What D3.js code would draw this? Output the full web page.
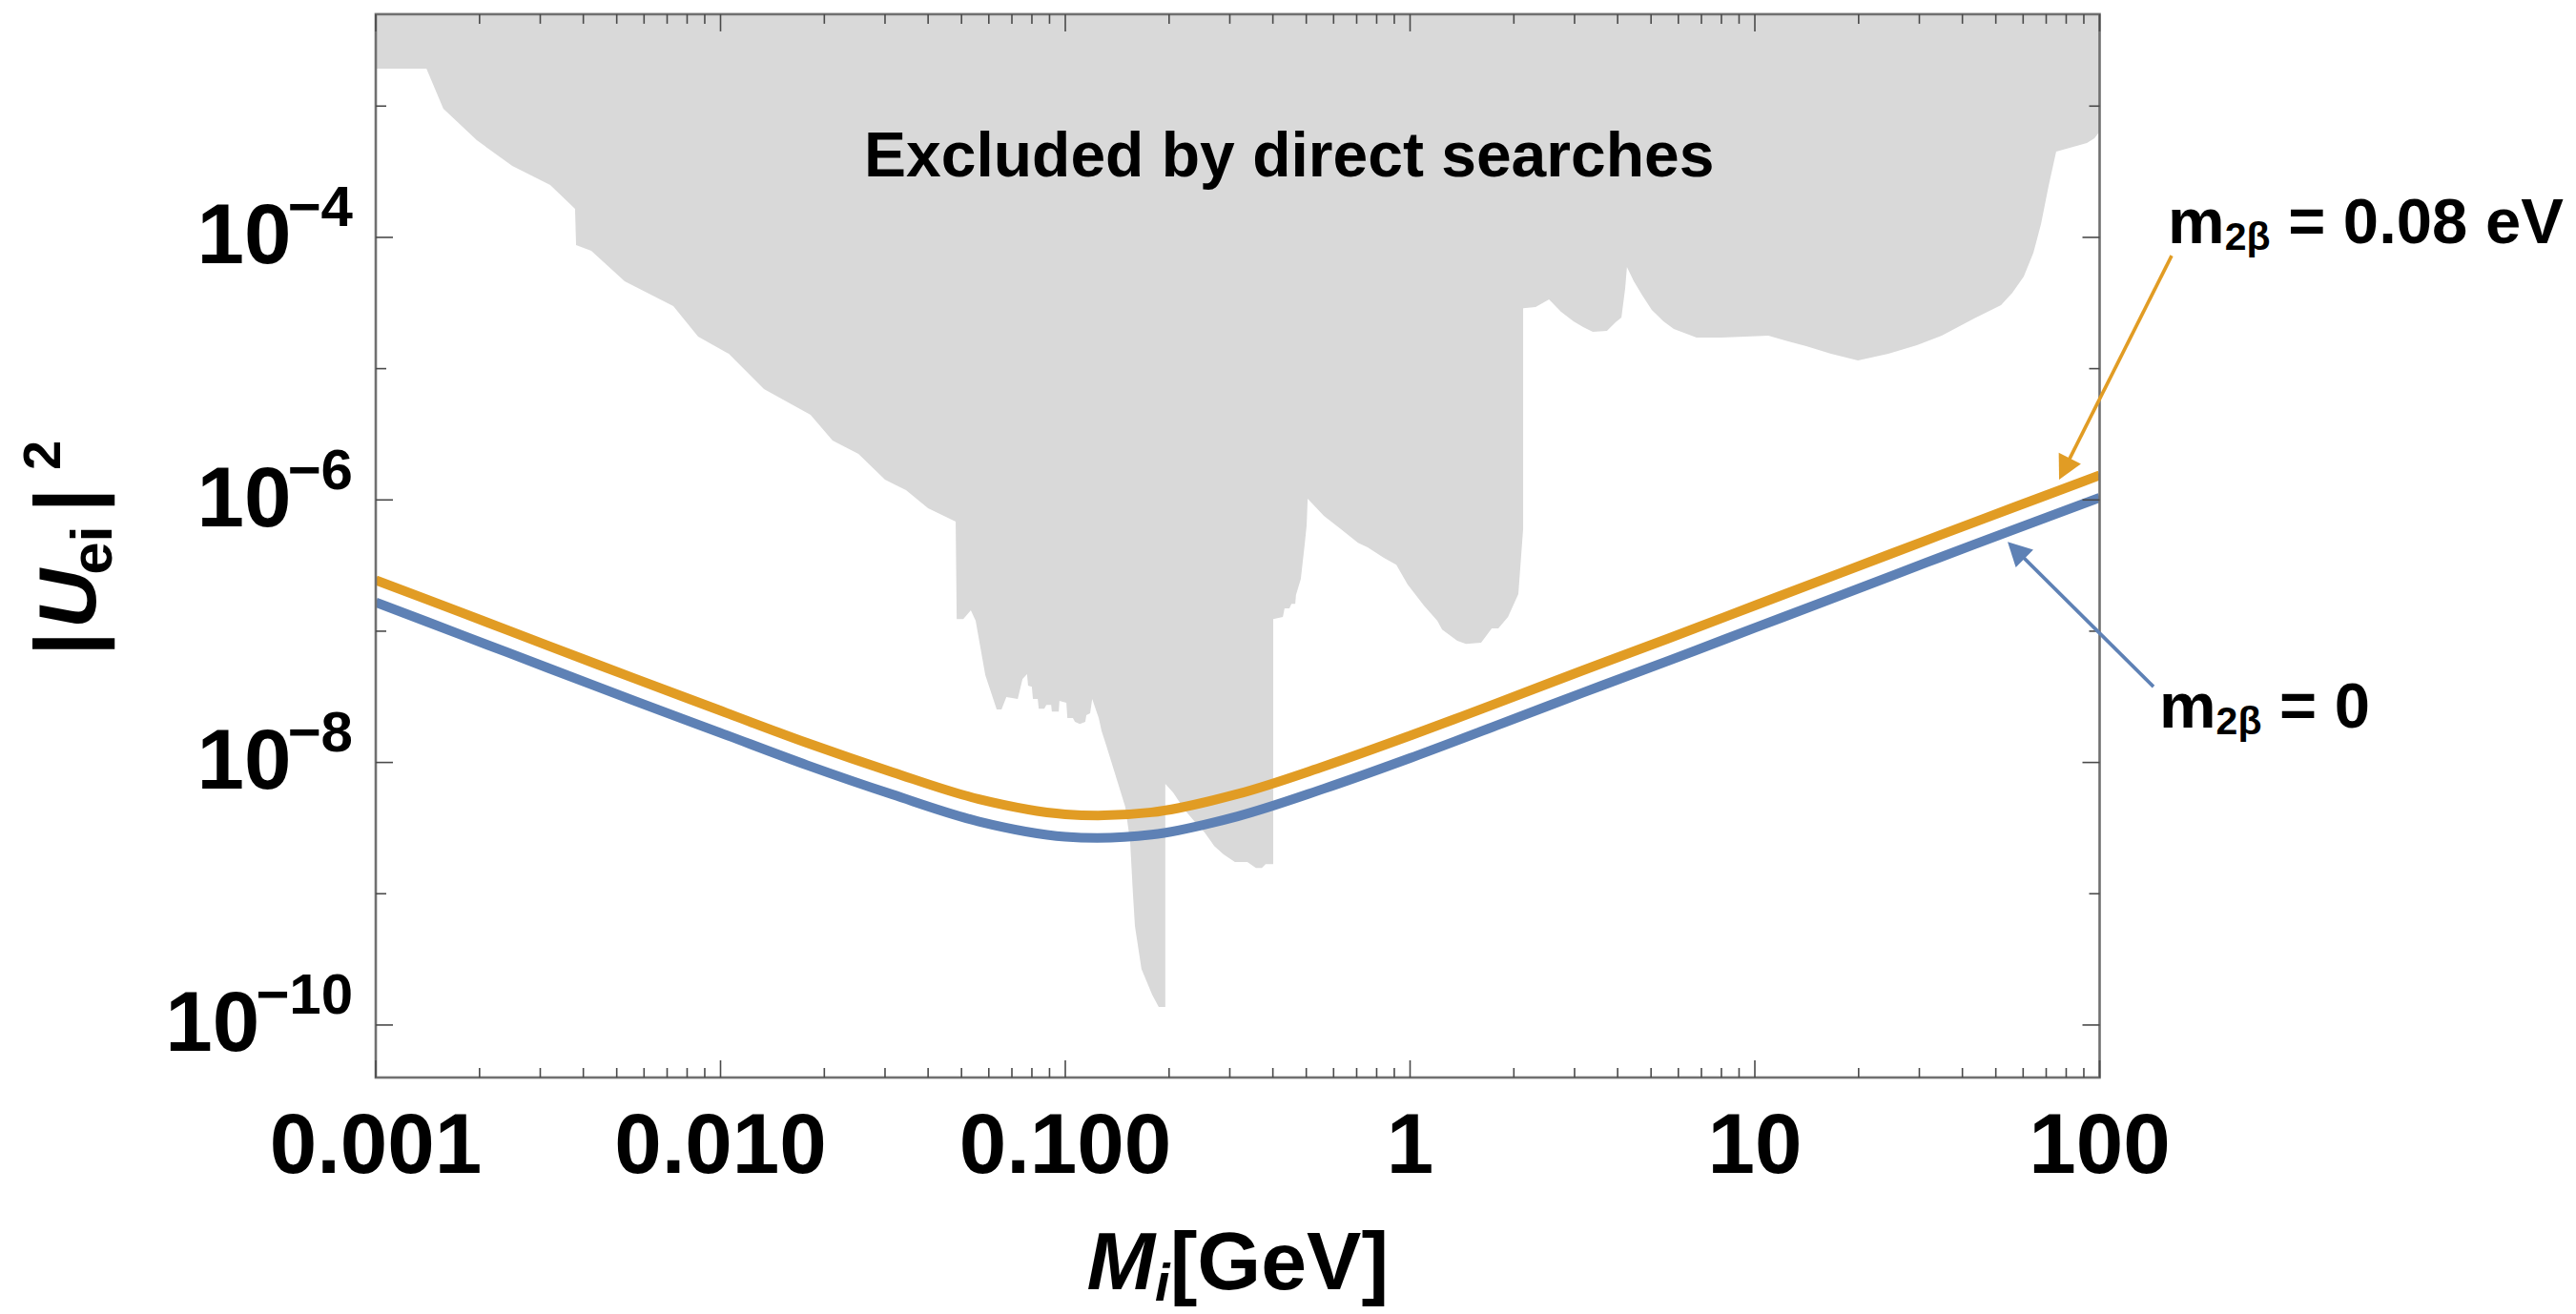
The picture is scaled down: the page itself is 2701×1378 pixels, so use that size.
<!DOCTYPE html>
<html>
<head>
<meta charset="utf-8">
<script src="https://cdn.jsdelivr.net/npm/d3@7"></script>
<style>
  html, body { margin: 0; padding: 0; background: #fff; }
  svg { display: block; font-family: "Liberation Sans", Arial, Helvetica, sans-serif; font-weight: bold; }
  text { white-space: pre; }
</style>
</head>
<body>
<svg id="chart" width="2701" height="1378"></svg>
<script>
// ---- data -------------------------------------------------------------
// Heavy-neutrino mass grid (GeV), quarter-decade steps
const massGrid = [0.001, 0.00178, 0.00316, 0.00562, 0.01, 0.0178, 0.0316, 0.0562, 0.1, 0.178, 0.316,
                  0.562, 1, 1.78, 3.16, 5.62, 10, 17.8, 31.6, 56.2, 100];
// |U_ei|^2 for m_2β = 0
const mixingZero = [1.66e-7, 9.33e-8, 5.25e-8, 2.95e-8, 1.68e-8, 9.55e-9, 5.69e-9, 3.55e-9, 2.72e-9, 2.82e-9, 3.89e-9,
                    6.31e-9, 1.08e-8, 1.91e-8, 3.39e-8, 5.96e-8, 1.06e-7, 1.88e-7, 3.35e-7, 5.92e-7, 1.04e-6];
// |U_ei|^2 for m_2β = 0.08 eV
const mixingEff  = [2.45e-7, 1.38e-7, 7.76e-8, 4.37e-8, 2.48e-8, 1.41e-8, 8.41e-9, 5.25e-9, 4.03e-9, 4.17e-9, 5.75e-9,
                    9.33e-9, 1.60e-8, 2.82e-8, 5.01e-8, 8.81e-8, 1.57e-7, 2.79e-7, 4.95e-7, 8.75e-7, 1.54e-6];

// Lower edge of the region excluded by direct searches (log10 M[GeV], log10 |U|^2)
const exclLogM = [
  -3.000, -2.853, -2.804, -2.707, -2.604, -2.494, -2.422, -2.419, -2.375, -2.278,
  -2.137, -2.065, -1.976, -1.874, -1.739, -1.675, -1.600, -1.523, -1.462, -1.398,
  -1.318, -1.315, -1.296, -1.274, -1.260, -1.232, -1.199, -1.185, -1.171, -1.138,
  -1.124, -1.111, -1.108, -1.097, -1.094, -1.080, -1.077, -1.061, -1.055, -1.041,
  -1.039, -1.019, -1.017, -0.997, -0.994, -0.978, -0.972, -0.958, -0.942, -0.939,
  -0.928, -0.922, -0.903, -0.895, -0.881, -0.845, -0.826, -0.812, -0.804, -0.798,
  -0.779, -0.748, -0.729, -0.710, -0.710, -0.687, -0.654, -0.624, -0.596, -0.568,
  -0.541, -0.508, -0.472, -0.447, -0.430, -0.419, -0.397, -0.397, -0.369, -0.364,
  -0.350, -0.344, -0.333, -0.331, -0.317, -0.306, -0.300, -0.297, -0.250, -0.203,
  -0.151, -0.123, -0.076, -0.040, -0.007, 0.040, 0.079, 0.093, 0.137, 0.162,
  0.206, 0.237, 0.256, 0.284, 0.314, 0.328, 0.328, 0.364, 0.403, 0.438,
  0.474, 0.502, 0.530, 0.571, 0.596, 0.613, 0.624, 0.629, 0.649, 0.674,
  0.701, 0.735, 0.765, 0.831, 0.903, 0.972, 1.039, 1.097, 1.149, 1.221,
  1.299, 1.387, 1.470, 1.542, 1.636, 1.714, 1.747, 1.780, 1.808, 1.830,
  1.852, 1.874, 1.963, 1.985, 2.000
];
const exclLogU = [
  -2.715, -2.715, -3.020, -3.260, -3.456, -3.601, -3.783, -4.059, -4.102, -4.335,
  -4.524, -4.756, -4.887, -5.156, -5.352, -5.548, -5.650, -5.846, -5.926, -6.064,
  -6.166, -6.907, -6.907, -6.841, -6.921, -7.335, -7.597, -7.597, -7.502, -7.517,
  -7.364, -7.328, -7.415, -7.423, -7.517, -7.517, -7.590, -7.590, -7.561, -7.561,
  -7.612, -7.612, -7.531, -7.546, -7.662, -7.662, -7.691, -7.706, -7.691, -7.640,
  -7.626, -7.517, -7.662, -7.757, -7.873, -8.178, -8.338, -8.600, -8.992, -9.246,
  -9.573, -9.769, -9.863, -9.863, -8.163, -8.229, -8.360, -8.454, -8.534, -8.636,
  -8.701, -8.759, -8.759, -8.803, -8.803, -8.774, -8.774, -6.907, -6.892, -6.827,
  -6.827, -6.791, -6.791, -6.725, -6.602, -6.347, -6.195, -5.991, -6.122, -6.217,
  -6.326, -6.362, -6.442, -6.493, -6.645, -6.805, -6.921, -6.987, -7.074, -7.096,
  -7.088, -6.979, -6.979, -6.892, -6.718, -6.217, -4.539, -4.531, -4.473, -4.567,
  -4.640, -4.684, -4.720, -4.713, -4.647, -4.611, -4.386, -4.226, -4.335, -4.444,
  -4.553, -4.640, -4.698, -4.763, -4.763, -4.756, -4.749, -4.793, -4.829, -4.887,
  -4.938, -4.887, -4.822, -4.749, -4.618, -4.517, -4.422, -4.299, -4.117, -3.899,
  -3.608, -3.347, -3.282, -3.245, -3.195
];

// Axis ranges and tick labels
const massDomain   = [1e-3, 1e2];
const mixingDomain = [Math.pow(10, -10.4), Math.pow(10, -2.3)];
const xTickValues  = [0.001, 0.01, 0.1, 1, 10, 100];
const xTickLabels  = ["0.001", "0.010", "0.100", "1", "10", "100"];
const yLabelExps   = [-4, -6, -8, -10];
const yDecadeExps  = [-3, -4, -5, -6, -7, -8, -9, -10];

// Annotations: arrow tail/tip and label anchor, in data units (GeV, |U|^2)
const notes = [
  { sub: "2β", rest: " = 0.08 eV", color: "#E19C24", tail: [161.8, 7.26e-5], tip: [76.3, 1.43e-6], at: [157.8, 9.03e-5] },
  { sub: "2β", rest: " = 0",       color: "#5E81B5", tail: [143.3, 3.78e-8], tip: [54.1, 4.8e-7],  at: [148.9, 1.84e-8] }
];
const regionLabel = { text: "Excluded by direct searches", at: [0.446, Math.pow(10, -3.536)] };

// ---- layout -----------------------------------------------------------
const plot = { left: 394, right: 2201.5, top: 14.9, bottom: 1130 };
const colZero = "#5E81B5", colEff = "#E19C24";
const frameCol = "#707070", tickCol = "#4a4a4a";

const svg = d3.select("#chart");
const x = d3.scaleLog().domain(massDomain).range([plot.left, plot.right]);
const y = d3.scaleLog().domain(mixingDomain).range([plot.bottom, plot.top]);

svg.append("defs").append("clipPath").attr("id", "plotClip")
  .append("rect")
  .attr("x", plot.left).attr("y", plot.top)
  .attr("width", plot.right - plot.left).attr("height", plot.bottom - plot.top);

const inner = svg.append("g").attr("clip-path", "url(#plotClip)");

// excluded region, filled up to the top of the frame
const excl = exclLogM.map((lm, i) => ({ m: Math.pow(10, lm), u: Math.pow(10, exclLogU[i]) }));
inner.append("path")
  .datum(excl)
  .attr("fill", "#d9d9d9")
  .attr("d", d3.area()
    .x(d => x(d.m))
    .y0(y(mixingDomain[1]))
    .y1(d => y(d.u)));

// region label
svg.append("text")
  .attr("x", x(regionLabel.at[0]))
  .attr("y", y(regionLabel.at[1]))
  .attr("text-anchor", "middle")
  .style("font-size", "66px")
  .attr("fill", "#000")
  .text(regionLabel.text);

// the two curves
const curveLine = d3.line()
  .x(d => x(d[0]))
  .y(d => y(d[1]))
  .curve(d3.curveCatmullRom.alpha(0.5));

[[mixingZero, colZero], [mixingEff, colEff]].forEach(([vals, col]) => {
  inner.append("path")
    .datum(massGrid.map((m, i) => [m, vals[i]]))
    .attr("fill", "none")
    .attr("stroke", col)
    .attr("stroke-width", 10)
    .attr("d", curveLine);
});

// frame
svg.append("rect")
  .attr("x", plot.left).attr("y", plot.top)
  .attr("width", plot.right - plot.left).attr("height", plot.bottom - plot.top)
  .attr("fill", "none").attr("stroke", frameCol).attr("stroke-width", 2.6);

// ticks
const ticksG = svg.append("g").attr("stroke", tickCol).attr("stroke-width", 1.6);
const xTicks = [];
for (let e = -3; e <= 2; e++) {
  xTicks.push({ v: Math.pow(10, e), len: 18 });
  if (e < 2) for (let k = 2; k <= 9; k++) xTicks.push({ v: k * Math.pow(10, e), len: 10 });
}
xTicks.forEach(t => {
  const px = x(t.v);
  ticksG.append("line").attr("x1", px).attr("x2", px).attr("y1", plot.bottom).attr("y2", plot.bottom - t.len);
  ticksG.append("line").attr("x1", px).attr("x2", px).attr("y1", plot.top).attr("y2", plot.top + t.len);
});
yDecadeExps.forEach(e => {
  const py = y(Math.pow(10, e));
  const len = yLabelExps.includes(e) ? 18 : 11;
  ticksG.append("line").attr("x1", plot.left).attr("x2", plot.left + len).attr("y1", py).attr("y2", py);
  ticksG.append("line").attr("x1", plot.right).attr("x2", plot.right - len).attr("y1", py).attr("y2", py);
});

// x tick labels
svg.append("g").selectAll("text")
  .data(xTickValues)
  .join("text")
  .attr("x", d => x(d))
  .attr("y", 1230)
  .attr("text-anchor", "middle")
  .style("font-size", "89px")
  .text((d, i) => xTickLabels[i]);

// y tick labels 10^n
const yl = svg.append("g").selectAll("text")
  .data(yLabelExps)
  .join("text")
  .attr("x", 370)
  .attr("y", d => y(Math.pow(10, d)) + 27.5)
  .attr("text-anchor", "end")
  .style("font-size", "89px");
yl.append("tspan").text("10");
yl.append("tspan").attr("dy", -39).attr("dx", -4).style("font-size", "60px").text(d => "\u2212" + Math.abs(d));

// x axis title: M_i[GeV]
const xt = svg.append("text")
  .attr("x", (plot.left + plot.right) / 2)
  .attr("y", 1352)
  .attr("text-anchor", "middle")
  .style("font-size", "86px");
xt.append("tspan").style("font-style", "italic").text("M");
xt.append("tspan").style("font-style", "italic").style("font-size", "56px").attr("dy", 12).text("i");
xt.append("tspan").attr("dy", -12).text("[GeV]");

// y axis title: |U_ei|^2, rotated
const yt = svg.append("g").attr("transform", "translate(100,685) rotate(-90)");
const ytPart = (txt, pos, size, shift, italic) => yt.append("text")
  .attr("x", pos).attr("y", shift)
  .attr("text-anchor", "middle")
  .style("font-size", size + "px")
  .style("font-style", italic ? "italic" : "normal")
  .text(txt);
ytPart("|", 10, 90, 0, false);
ytPart("U", 57, 86, 0, true);
ytPart("ei", 108, 62, 17, false);
ytPart("|", 160.5, 90, 0, false);
ytPart("2", 207.5, 56, -37, false);

// annotations with arrows
notes.forEach(n => {
  const tx = x(n.tail[0]), ty = y(n.tail[1]);
  const px = x(n.tip[0]),  py = y(n.tip[1]);
  const dx = px - tx, dy = py - ty, L = Math.hypot(dx, dy);
  const ux = dx / L, uy = dy / L;
  const headLen = 25, headHalf = 13;
  const bx = px - ux * headLen, by = py - uy * headLen;
  svg.append("line")
    .attr("x1", tx).attr("y1", ty).attr("x2", bx + ux * 2).attr("y2", by + uy * 2)
    .attr("stroke", n.color).attr("stroke-width", 3.6);
  svg.append("path")
    .attr("d", d3.line()([[px, py], [bx - uy * headHalf, by + ux * headHalf], [bx + uy * headHalf, by - ux * headHalf]]) + "Z")
    .attr("fill", n.color);

  const t = svg.append("text")
    .attr("x", x(n.at[0]))
    .attr("y", y(n.at[1]))
    .style("font-size", "67px");
  t.append("tspan").text("m");
  t.append("tspan").attr("dy", 7).style("font-size", "41px").text(n.sub);
  t.append("tspan").attr("dy", -7).text(n.rest);
});
</script>
</body>
</html>
